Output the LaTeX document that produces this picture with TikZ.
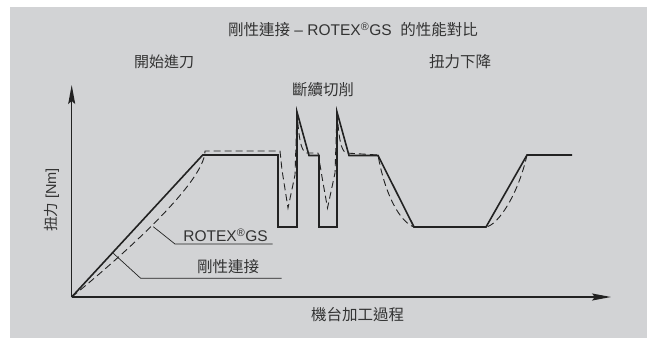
\documentclass[tikz,border=0pt]{standalone}
\usepackage{fontspec}
\setmainfont{Liberation Sans}
\newfontfamily\cjk{Noto Sans CJK TC}
\usetikzlibrary{arrows.meta}
\definecolor{bg}{HTML}{D2D3D5}
\definecolor{ink}{HTML}{222222}
\definecolor{txt}{HTML}{333333}
\tikzset{
  lbl/.style={text=txt, font=\fontsize{15.5}{17}\selectfont, inner sep=0pt},
  axis/.style={draw=ink, line width=1.3pt, -{Stealth[length=19pt,width=7pt,inset=3pt]}},
  solidc/.style={draw=ink, line width=1.6pt, line join=miter},
  dashc/.style={draw=ink, line width=0.9pt, dash pattern=on 7pt off 4pt},
  leader/.style={draw=ink, line width=0.7pt},
}
\begin{document}
\begin{tikzpicture}[x=1pt,y=-1pt]
\useasboundingbox (0,0) rectangle (647,338);
\fill[white] (0,0) rectangle (647,338);
\fill[bg] (10,7) rectangle (647,338);
% axes
\coordinate (O) at (71.7,297);
\coordinate (ytop) at (71.7,85);
\coordinate (xend) at (611,297);
\draw[axis] (O) -- (ytop);
\draw[axis] (O) -- (xend);
% solid curve (rigid)
\draw[solidc] (O) -- (202.7,155) -- (278,155) -- (278,227) -- (297,227) -- (297,112)
  -- (309,155.5) -- (319,155.5) -- (319,227) -- (337,227) -- (337,112)
  -- (349,155.5) -- (378,155.5) -- (414,227) -- (486,227) -- (527,155) -- (572,155);
% dashed curve (ROTEX GS)
\draw[dashc] (O) .. controls (105,270) and (205,185) .. (205,151) -- (280,151)
  -- (282,170) -- (288,208) -- (295,175) -- (297,112)
  .. controls (299,140) and (301,150) .. (306,153) -- (318,153)
  -- (322,177) -- (327.5,208) -- (335,173) -- (337,112)
  .. controls (339,140) and (341,150) .. (346,153) -- (378,155)
  .. controls (385,195) and (400,222) .. (414,227) -- (486,227)
  .. controls (498,225) and (518,195) .. (527,155);
% labels
\node[lbl] (title) at (353,30) {{\cjk 剛性連接} – ROTEX\textsuperscript{®}GS\ \ {\cjk 的性能對比}};
\node[lbl, font=\fontsize{15}{17}\selectfont] (start) at (164,61.5) {\cjk 開始進刀};
\node[lbl] (drop) at (460,61.5) {\cjk 扭力下降};
\node[lbl] (inter) at (323,90) {\cjk 斷續切削};
\node[lbl] (xlab) at (357.5,315) {\cjk 機台加工過程};
\node[lbl, rotate=90, font=\fontsize{14.5}{16}\selectfont] (ylab) at (51.5,200) {{\cjk 扭力} [Nm]};
\node[lbl] (rotex) at (225.5,235) {ROTEX\textsuperscript{®}GS};
\node[lbl] (rigid) at (228,266.5) {\cjk 剛性連接};
% leaders
\coordinate (r1) at (153.3,226.7);
\coordinate (r2) at (175,244);
\coordinate (r3) at (272.7,244);
\draw[leader] (r1) -- (r2) -- (r3);
\coordinate (s1) at (113.3,253.3);
\coordinate (s2) at (140.7,278.3);
\coordinate (s3) at (281.7,278.3);
\draw[leader] (s1) -- (s2) -- (s3);
\end{tikzpicture}
\end{document}
